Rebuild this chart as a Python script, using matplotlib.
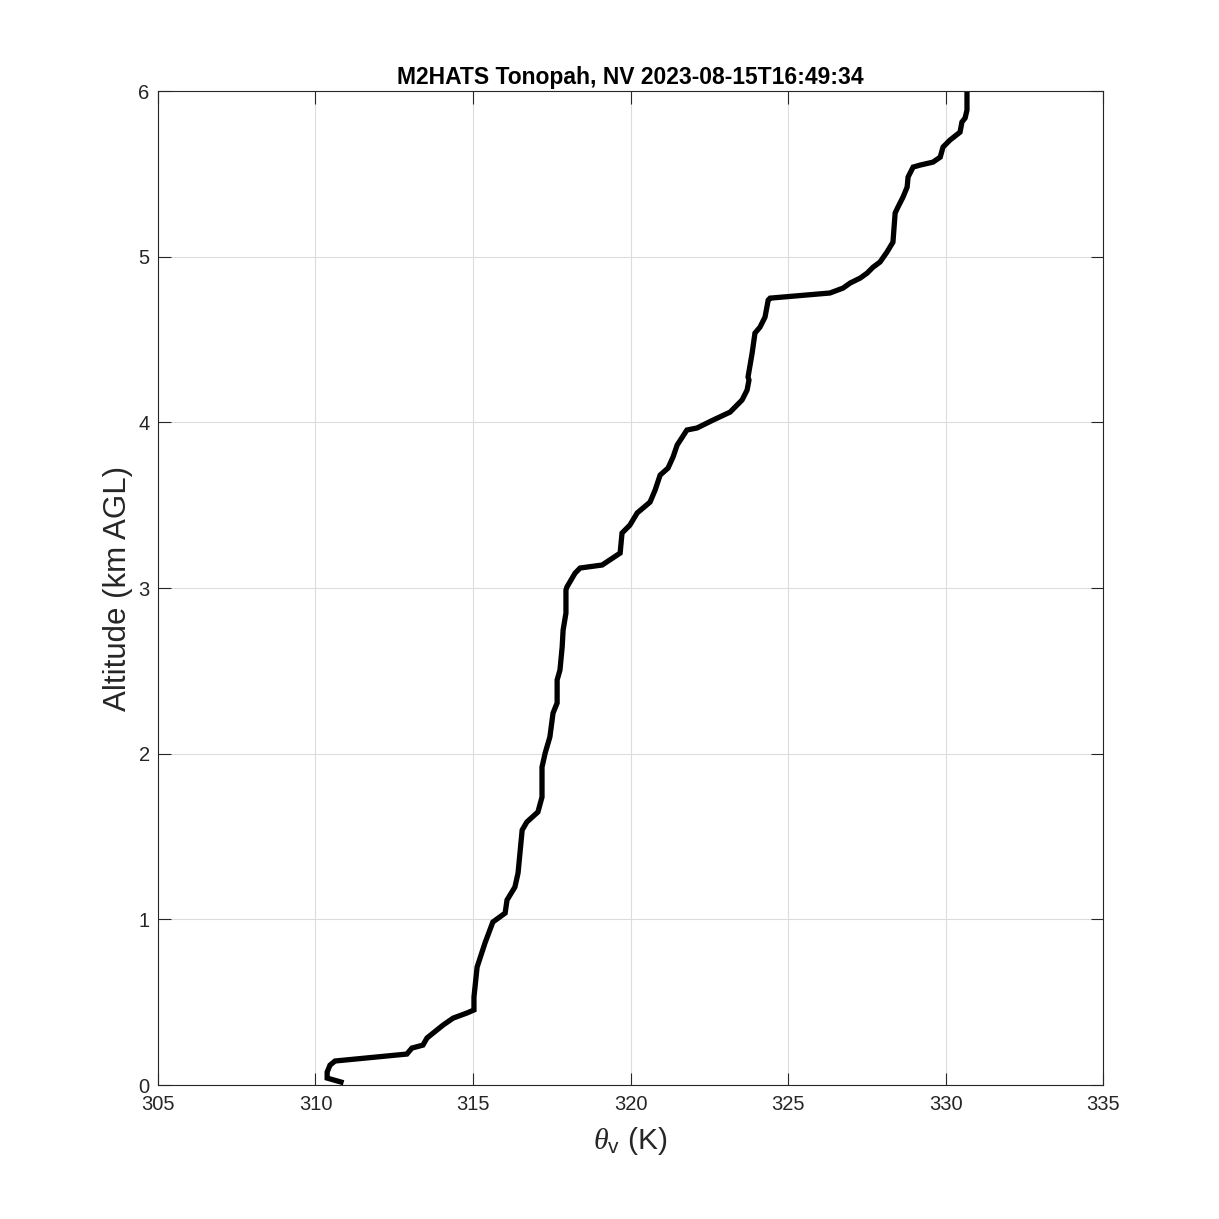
import matplotlib
matplotlib.use("Agg")
import matplotlib.pyplot as plt

plt.rcParams['font.family'] = ['Liberation Sans', 'DejaVu Sans']
plt.rcParams['mathtext.fontset'] = 'custom'
plt.rcParams['mathtext.rm'] = 'Liberation Sans'
plt.rcParams['mathtext.it'] = 'Liberation Serif:italic'

theta_v = [310.81, 310.37, 310.37, 310.46, 310.62, 312.90, 313.06, 313.41, 313.54, 314.05,
           314.37, 314.81, 315.03, 315.03, 315.13, 315.38, 315.63, 316.02, 316.08, 316.33,
           316.43, 316.56, 316.71, 317.06, 317.19, 317.19, 317.29, 317.44, 317.54, 317.67,
           317.67, 317.76, 317.83, 317.86, 317.95, 317.95, 317.98, 318.24, 318.40, 319.10,
           319.67, 319.73, 319.98, 320.21, 320.62, 320.78, 320.94, 321.19, 321.35, 321.48,
           321.79, 322.11, 322.62, 323.16, 323.54, 323.70, 323.76, 323.73, 323.86, 323.95,
           324.11, 324.27, 324.37, 324.43, 326.33, 326.75, 326.97, 327.29, 327.51, 327.70,
           327.92, 328.14, 328.33, 328.40, 328.49, 328.65, 328.78, 328.81, 328.97, 329.19,
           329.60, 329.83, 329.92, 330.14, 330.46, 330.52, 330.62, 330.68, 330.68]
altitude_km = [0.018, 0.042, 0.078, 0.120, 0.145, 0.187, 0.223, 0.241, 0.284, 0.362,
               0.404, 0.435, 0.453, 0.531, 0.712, 0.857, 0.984, 1.038, 1.117, 1.195,
               1.280, 1.539, 1.588, 1.648, 1.738, 1.919, 2.004, 2.101, 2.245, 2.306,
               2.445, 2.505, 2.644, 2.746, 2.849, 2.988, 3.006, 3.090, 3.121, 3.139,
               3.211, 3.332, 3.380, 3.453, 3.519, 3.591, 3.682, 3.724, 3.791, 3.863,
               3.954, 3.966, 4.014, 4.062, 4.135, 4.195, 4.255, 4.274, 4.418, 4.539,
               4.575, 4.636, 4.738, 4.750, 4.781, 4.811, 4.841, 4.871, 4.901, 4.937,
               4.968, 5.028, 5.088, 5.264, 5.300, 5.360, 5.420, 5.481, 5.541, 5.553,
               5.571, 5.601, 5.662, 5.704, 5.752, 5.813, 5.837, 5.885, 6.006]

x_ticks = [305, 310, 315, 320, 325, 330, 335]
y_ticks = [0, 1, 2, 3, 4, 5, 6]
title = "M2HATS Tonopah, NV 2023-08-15T16:49:34"

fig = plt.figure(figsize=(12.19, 12.19), dpi=100)
ax = fig.add_axes([0.1296, 0.1099, 0.7753, 0.8154])
ax.plot(theta_v, altitude_km, color='black', linewidth=3.8, solid_joinstyle='miter')
ax.set_xlim(305, 335)
ax.set_ylim(0, 6)
ax.set_xticks(x_ticks)
ax.set_yticks(y_ticks)
ax.grid(True, color='#dcdcdc', linewidth=0.8)
ax.set_axisbelow(True)
ax.tick_params(direction='in', length=9, width=0.8, labelsize=14.5, top=True, right=True,
               colors='#262626', labelcolor='#262626')
ax.tick_params(axis='x', pad=7)
ax.tick_params(axis='y', pad=6)
for s in ax.spines.values():
    s.set_color('#262626')
    s.set_linewidth(0.8)
ax.set_xlabel(r'$\mathit{\theta}_{\mathrm{v}}$ (K)', fontsize=21.5, color='#262626', labelpad=8)
ax.set_ylabel('Altitude (km AGL)', fontsize=22.5, color='#262626', labelpad=4)
ax.set_title(title, fontsize=16.5, fontweight='bold', pad=5)
fig.savefig('out.png', dpi=100, facecolor='white')
